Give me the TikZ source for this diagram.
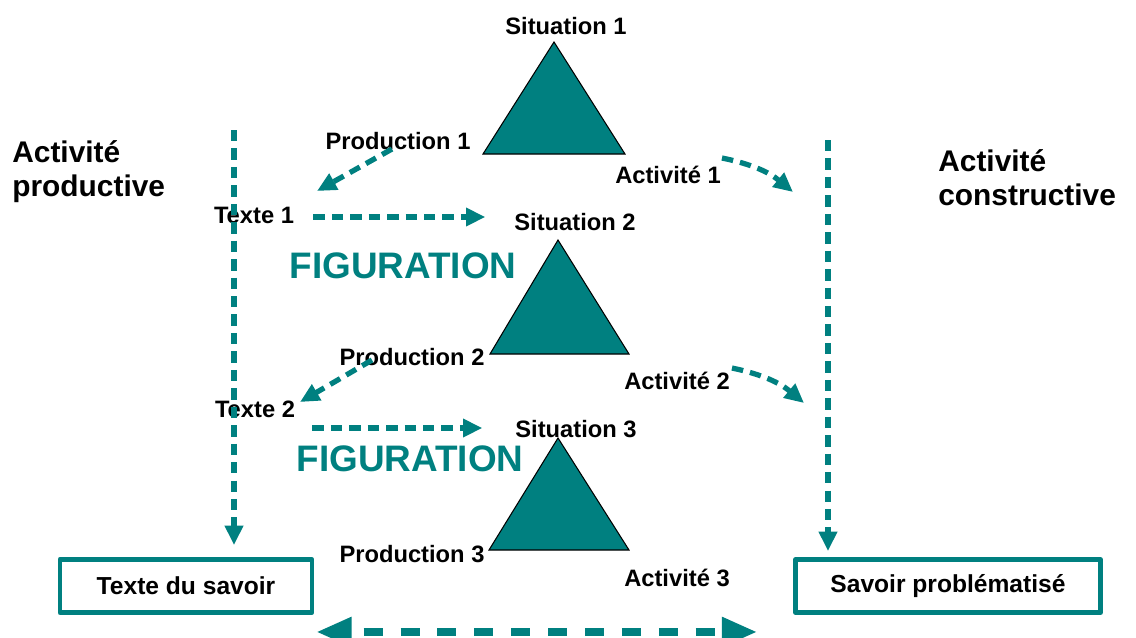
\documentclass[tikz,border=0pt]{standalone}
\usepackage{fontspec}
\setmainfont{Liberation Sans}
\usepackage{tikz}
\usetikzlibrary{arrows.meta}
\definecolor{sarcelle}{RGB}{0,128,128}

\begin{document}
\begin{tikzpicture}[x=0.02cm,y=-0.02cm]
\tikzstyle{every node}+=[inner sep=0pt]
\tikzstyle{etiq}=[font=\bfseries\fontsize{13.5}{16}\selectfont]
\tikzstyle{titre}=[font=\bfseries\fontsize{17}{19.5}\selectfont, align=left, anchor=west]
\tikzstyle{fig}=[text=sarcelle, font=\bfseries\fontsize{21}{25}\selectfont]
\tikzstyle{boite}=[draw=sarcelle, line width=2.8pt, line join=round, minimum height=1.06cm, font=\bfseries\fontsize{14}{16}\selectfont]
\tikzstyle{fleche}=[draw=sarcelle, line width=3pt, dash pattern=on 6.5pt off 4pt, -{Triangle[length=11pt,width=10pt]}]
\tikzstyle{allerretour}=[draw=sarcelle, line width=4.5pt, dash pattern=on 10.8pt off 10.2pt, dash phase=-8pt, {Triangle[length=20pt,width=16pt]}-{Triangle[length=20pt,width=16pt]}]
\tikzstyle{triangle}=[fill=sarcelle, draw=black, line width=0.6pt]
\useasboundingbox (0,0) rectangle (1136,637);
% les trois situations
\filldraw[triangle] (554,42) -- (483,154) -- (625,154) -- cycle;
\filldraw[triangle] (558,240) -- (490,354) -- (629,354) -- cycle;
\filldraw[triangle] (558,438) -- (489,550) -- (629,550) -- cycle;
\node[etiq] (sit1) at (566,26) {Situation 1};
\node[etiq] (prod1) at (398,141) {Production 1};
\node[etiq] (act1) at (668,175) {Activité 1};
\node[etiq] (sit2) at (575,222) {Situation 2};
\node[etiq] (prod2) at (412,357) {Production 2};
\node[etiq] (act2) at (677,381) {Activité 2};
\node[etiq] (sit3) at (576,429) {Situation 3};
\node[etiq] (prod3) at (412,554) {Production 3};
\node[etiq] (act3) at (677,578) {Activité 3};
\node[etiq] (txt1) at (254,215) {Texte 1};
\node[etiq] (txt2) at (255,409) {Texte 2};
\node[fig] (fig1) at (403,266) {FIGURATION};
\node[fig] (fig2) at (410,459) {FIGURATION};
\node[titre] (productive) at (12,172) {Activité\\productive};
\node[titre] (constructive) at (938,178) {Activité\\constructive};
% les deux savoirs
\node[boite, minimum width=5.04cm] (savoir) at (186,586) {Texte du savoir};
\node[boite, minimum width=6.1cm] (probl) at (948,586) {Savoir problématisé};
% les fleches
\coordinate (hautG) at (234,130);
\coordinate (hautD) at (828,140);
\coordinate (finA1) at (793,192);
\coordinate (finA2) at (804,403);
\draw[fleche, shorten >=0.24cm] (hautG) -- (hautG |- savoir.north);
\draw[fleche, shorten >=0.12cm] (hautD) -- (hautD |- probl.north);
\draw[fleche] ([shift={(-6,8)}]prod1.center) -- ([shift={(63,-24)}]txt1.center);
\draw[fleche] ([shift={(-40,3)}]prod2.center) -- ([shift={(45,-7)}]txt2.center);
\draw[fleche] ([shift={(19,2)}]txt1.east) -- ++(172,0);
\draw[fleche] ([shift={(17,19)}]txt2.east) -- ++(170,0);
\draw[fleche] ([shift={(54,-17)}]act1.center) to[bend left=14] (finA1);
\draw[fleche] ([shift={(55,-13)}]act2.center) to[bend left=14] (finA2);
\draw[allerretour] ([shift={(2,17)}]savoir.south east) -- ([shift={(-36,17)}]probl.south west);
\end{tikzpicture}
\end{document}
